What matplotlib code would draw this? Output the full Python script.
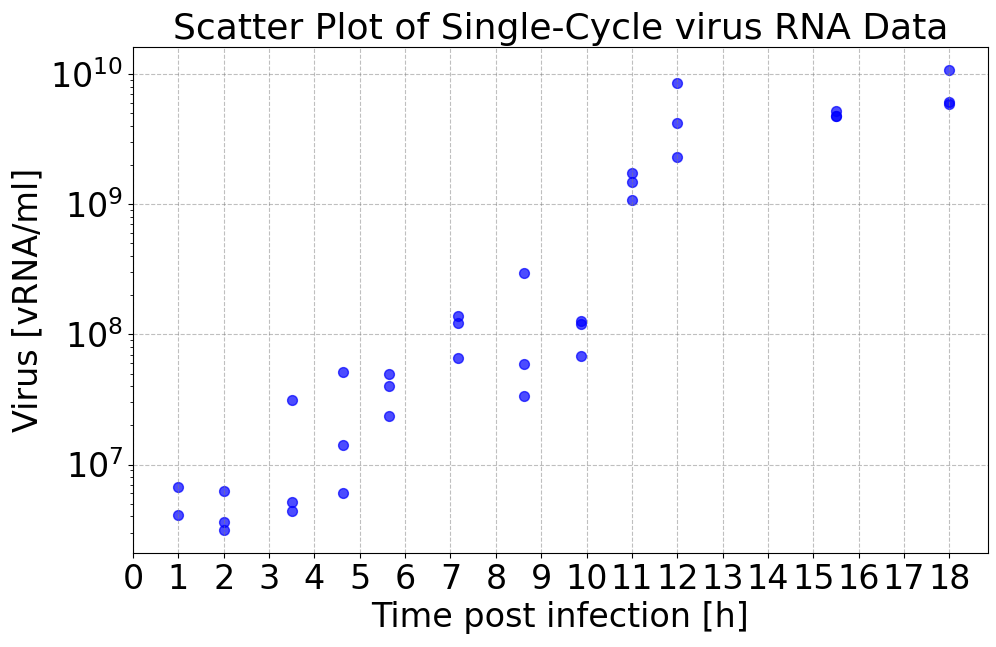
import matplotlib
matplotlib.use("Agg")
import matplotlib.pyplot as plt

# time post infection [h] and measured virus RNA [vRNA/ml]
time_h = [
    1, 1,
    2, 2, 2,
    3.5, 3.5, 3.5,
    4.63, 4.63, 4.63,
    5.65, 5.65, 5.65,
    7.17, 7.17, 7.17,
    8.63, 8.63, 8.63,
    9.88, 9.88, 9.88,
    11, 11, 11,
    12, 12, 12,
    15.5, 15.5, 15.5,
    18, 18, 18,
]
virus = [
    6.7e6, 4.06e6,
    6.25e6, 3.63e6, 3.14e6,
    3.13e7, 5.14e6, 4.39e6,
    5.16e7, 1.42e7, 6.07e6,
    4.99e7, 4.01e7, 2.38e7,
    1.39e8, 1.23e8, 6.58e7,
    2.98e8, 5.88e7, 3.34e7,
    1.27e8, 1.2e8, 6.85e7,
    1.74e9, 1.49e9, 1.08e9,
    8.53e9, 4.21e9, 2.29e9,
    5.18e9, 4.8e9, 4.75e9,
    1.07e10, 6.07e9, 5.93e9,
]
xticks = list(range(0, 19))

fig, ax = plt.subplots(figsize=(9.96, 6.47), dpi=100)
fig.subplots_adjust(left=0.1335, right=0.992, top=0.927, bottom=0.1453)

ax.scatter(time_h, virus, color="blue", alpha=0.7, s=50)
ax.set_yscale("log")
ax.set_xticks(xticks)
ax.set_title("Scatter Plot of Single-Cycle virus RNA Data", fontsize=26)
ax.set_xlabel("Time post infection [h]", fontsize=24)
ax.set_ylabel("Virus [vRNA/ml]", fontsize=24)
ax.tick_params(axis="both", which="major", labelsize=24)
ax.grid(True, linestyle="--", color="gray", alpha=0.5)

fig.savefig("out.png", dpi=100)
